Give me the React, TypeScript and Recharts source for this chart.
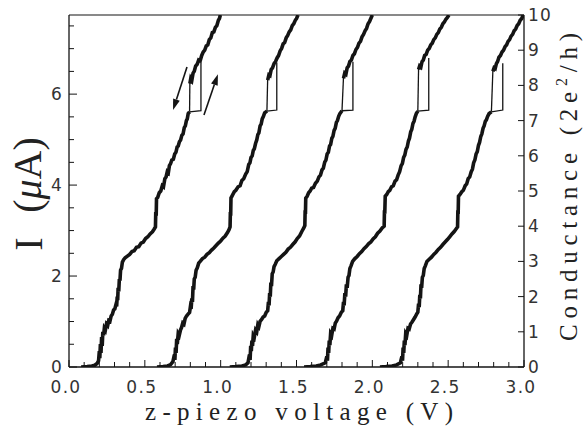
import React from 'react';
import { ComposedChart, Line, XAxis, YAxis, ReferenceLine } from 'recharts';

type P = [number, number];

// x = z-piezo voltage (V), g = conductance (2e^2/h)
const c1Lower: P[] = [[0.08,0.0],[0.12,0.01],[0.15,0.03],[0.17,0.05],[0.185,0.1],[0.195,0.18],[0.20,0.45],[0.203,0.25],[0.207,0.65],[0.211,0.4],[0.215,0.85],[0.219,0.6],[0.223,1.0],[0.228,0.9],[0.233,1.1],[0.24,1.05],[0.247,1.22],[0.255,1.18],[0.262,1.32],[0.27,1.3],[0.278,1.45],[0.286,1.5],[0.294,1.62],[0.302,1.65],[0.31,1.78],[0.314,1.72],[0.318,2.0],[0.321,1.9],[0.324,2.25],[0.328,2.15],[0.332,2.5],[0.336,2.45],[0.34,2.75],[0.346,2.8],[0.352,2.98],[0.36,3.05],[0.37,3.1],[0.385,3.15],[0.40,3.2],[0.415,3.28],[0.43,3.3],[0.445,3.4],[0.46,3.42],[0.475,3.52],[0.49,3.55],[0.505,3.65],[0.52,3.7],[0.535,3.78],[0.55,3.84],[0.562,3.92],[0.57,3.98],[0.572,4.4],[0.575,4.3],[0.577,4.78],[0.585,4.82],[0.595,4.95],[0.605,5.0],[0.615,5.15],[0.623,5.12],[0.632,5.35],[0.64,5.4],[0.648,5.55],[0.655,5.52],[0.662,5.72],[0.67,5.78],[0.678,5.88],[0.688,5.9],[0.697,6.05],[0.705,6.1],[0.713,6.25],[0.72,6.28],[0.728,6.4],[0.736,6.45],[0.744,6.58],[0.752,6.62],[0.76,6.8],[0.767,6.85],[0.774,7.0],[0.78,7.05],[0.786,7.2],[0.795,7.25]];
const c1Fwd: P[] = [[0.795,7.25],[0.87,7.28],[0.87,8.65]];
const c1Back: P[] = [[0.795,7.25],[0.797,8.1]];
const c1Upper: P[] = [[0.797,8.05],[0.803,8.2],[0.81,8.15],[0.818,8.35],[0.826,8.4],[0.835,8.55],[0.845,8.6],[0.855,8.72],[0.865,8.7],[0.875,8.85],[0.885,8.95],[0.895,9.0],[0.905,9.12],[0.915,9.15],[0.925,9.3],[0.935,9.35],[0.945,9.5],[0.955,9.52],[0.965,9.65],[0.975,9.7],[0.985,9.85],[0.992,9.9],[0.998,10]];

const c2Lower: P[] = [[0.58,0.0],[0.62,0.01],[0.65,0.03],[0.67,0.07],[0.685,0.15],[0.695,0.35],[0.698,0.2],[0.702,0.55],[0.706,0.4],[0.71,0.8],[0.714,0.65],[0.72,0.95],[0.727,0.9],[0.735,1.05],[0.742,1.12],[0.75,1.25],[0.758,1.22],[0.766,1.38],[0.775,1.45],[0.785,1.5],[0.795,1.55],[0.80,1.7],[0.805,1.65],[0.81,1.95],[0.814,1.85],[0.818,2.3],[0.822,2.2],[0.826,2.5],[0.832,2.55],[0.838,2.75],[0.846,2.82],[0.855,2.95],[0.865,3.0],[0.88,3.08],[0.895,3.12],[0.91,3.2],[0.925,3.25],[0.94,3.32],[0.955,3.38],[0.97,3.45],[0.985,3.52],[1.0,3.58],[1.015,3.66],[1.03,3.72],[1.045,3.82],[1.055,3.9],[1.062,3.98],[1.064,4.4],[1.066,4.3],[1.068,4.8],[1.078,4.88],[1.09,4.98],[1.10,5.02],[1.115,5.12],[1.128,5.15],[1.14,5.3],[1.152,5.35],[1.165,5.48],[1.175,5.55],[1.185,5.75],[1.193,5.8],[1.2,5.95],[1.208,6.0],[1.215,6.15],[1.222,6.2],[1.23,6.35],[1.238,6.45],[1.245,6.6],[1.252,6.65],[1.26,6.85],[1.267,6.9],[1.274,7.05],[1.282,7.12],[1.29,7.22],[1.305,7.27]];
const c2Fwd: P[] = [[1.305,7.27],[1.37,7.3],[1.37,8.65]];
const c2Back: P[] = [[1.305,7.27],[1.31,8.2]];
const c2Upper: P[] = [[1.31,8.15],[1.318,8.3],[1.325,8.28],[1.333,8.45],[1.342,8.5],[1.352,8.62],[1.362,8.68],[1.372,8.78],[1.382,8.85],[1.392,8.98],[1.402,9.05],[1.412,9.18],[1.422,9.22],[1.432,9.35],[1.442,9.42],[1.452,9.52],[1.462,9.58],[1.472,9.7],[1.482,9.75],[1.492,9.85],[1.50,9.9],[1.51,10]];

const c3Lower: P[] = [[1.06,0.0],[1.10,0.01],[1.14,0.03],[1.165,0.06],[1.18,0.12],[1.19,0.35],[1.194,0.2],[1.198,0.6],[1.202,0.45],[1.206,0.75],[1.21,0.6],[1.215,0.9],[1.222,0.85],[1.23,1.05],[1.238,1.0],[1.245,1.2],[1.252,1.15],[1.26,1.3],[1.27,1.35],[1.28,1.42],[1.29,1.45],[1.30,1.55],[1.31,1.6],[1.315,1.85],[1.319,1.75],[1.323,2.1],[1.327,2.0],[1.331,2.4],[1.335,2.3],[1.34,2.65],[1.346,2.7],[1.352,2.85],[1.36,2.92],[1.37,3.02],[1.385,3.08],[1.40,3.14],[1.415,3.2],[1.43,3.26],[1.445,3.35],[1.46,3.4],[1.475,3.48],[1.49,3.55],[1.505,3.65],[1.52,3.72],[1.535,3.85],[1.548,3.95],[1.555,4.02],[1.557,4.45],[1.559,4.35],[1.561,4.8],[1.57,4.85],[1.58,4.95],[1.59,5.0],[1.60,5.08],[1.612,5.1],[1.625,5.22],[1.637,5.28],[1.648,5.4],[1.658,5.45],[1.668,5.6],[1.677,5.65],[1.686,5.82],[1.694,5.88],[1.702,6.05],[1.71,6.1],[1.718,6.28],[1.725,6.32],[1.733,6.5],[1.74,6.55],[1.748,6.72],[1.755,6.78],[1.763,6.95],[1.77,7.0],[1.778,7.12],[1.786,7.2],[1.80,7.28]];
const c3Fwd: P[] = [[1.80,7.28],[1.872,7.3],[1.872,8.67]];
const c3Back: P[] = [[1.80,7.28],[1.81,8.25]];
const c3Upper: P[] = [[1.81,8.2],[1.818,8.35],[1.826,8.32],[1.834,8.5],[1.843,8.55],[1.852,8.68],[1.862,8.72],[1.872,8.85],[1.882,8.9],[1.892,9.02],[1.902,9.08],[1.912,9.2],[1.922,9.25],[1.932,9.38],[1.942,9.45],[1.952,9.55],[1.962,9.62],[1.972,9.75],[1.982,9.82],[1.99,9.9],[2.0,10]];

const c4Lower: P[] = [[1.55,0.0],[1.59,0.01],[1.63,0.03],[1.66,0.06],[1.69,0.12],[1.70,0.3],[1.704,0.18],[1.708,0.55],[1.712,0.4],[1.716,0.75],[1.72,0.62],[1.725,0.95],[1.732,0.9],[1.74,1.1],[1.748,1.08],[1.756,1.25],[1.764,1.3],[1.774,1.4],[1.784,1.45],[1.795,1.55],[1.805,1.6],[1.81,1.85],[1.814,1.75],[1.819,2.1],[1.824,2.0],[1.829,2.35],[1.834,2.25],[1.84,2.55],[1.846,2.6],[1.852,2.8],[1.86,2.88],[1.87,3.0],[1.885,3.08],[1.90,3.14],[1.915,3.22],[1.93,3.28],[1.945,3.36],[1.96,3.42],[1.975,3.5],[1.99,3.55],[2.005,3.64],[2.02,3.7],[2.035,3.8],[2.05,3.86],[2.065,3.95],[2.078,4.0],[2.08,4.45],[2.082,4.35],[2.085,4.85],[2.095,4.9],[2.105,4.98],[2.115,5.02],[2.127,5.12],[2.138,5.15],[2.15,5.28],[2.16,5.32],[2.17,5.45],[2.18,5.55],[2.19,5.72],[2.198,5.78],[2.206,5.95],[2.214,6.02],[2.222,6.18],[2.23,6.25],[2.238,6.42],[2.245,6.5],[2.253,6.68],[2.26,6.75],[2.268,6.92],[2.275,6.98],[2.282,7.1],[2.29,7.2],[2.30,7.27]];
const c4Fwd: P[] = [[2.30,7.27],[2.372,7.3],[2.372,8.78]];
const c4Back: P[] = [[2.30,7.27],[2.305,8.5]];
const c4Upper: P[] = [[2.305,8.45],[2.312,8.55],[2.32,8.52],[2.328,8.68],[2.336,8.72],[2.345,8.85],[2.355,8.88],[2.365,9.0],[2.375,9.05],[2.385,9.15],[2.395,9.2],[2.405,9.3],[2.415,9.35],[2.425,9.45],[2.435,9.5],[2.445,9.6],[2.455,9.65],[2.465,9.75],[2.475,9.8],[2.485,9.88],[2.495,9.93],[2.505,10]];

const c5Lower: P[] = [[2.05,0.0],[2.09,0.01],[2.13,0.03],[2.16,0.06],[2.185,0.12],[2.195,0.3],[2.199,0.18],[2.203,0.55],[2.207,0.4],[2.211,0.75],[2.215,0.62],[2.22,0.95],[2.227,0.9],[2.235,1.1],[2.243,1.08],[2.252,1.22],[2.262,1.28],[2.272,1.35],[2.282,1.42],[2.292,1.5],[2.30,1.56],[2.305,1.8],[2.309,1.7],[2.313,2.05],[2.317,1.95],[2.321,2.35],[2.325,2.25],[2.33,2.55],[2.336,2.6],[2.342,2.8],[2.35,2.88],[2.36,3.0],[2.375,3.06],[2.39,3.12],[2.405,3.2],[2.42,3.26],[2.435,3.34],[2.45,3.4],[2.465,3.48],[2.48,3.55],[2.495,3.62],[2.51,3.7],[2.525,3.78],[2.54,3.85],[2.552,3.92],[2.562,3.98],[2.564,4.45],[2.566,4.35],[2.568,4.85],[2.578,4.9],[2.59,4.98],[2.60,5.02],[2.612,5.15],[2.622,5.2],[2.632,5.35],[2.642,5.4],[2.652,5.55],[2.66,5.62],[2.668,5.8],[2.676,5.88],[2.684,6.05],[2.692,6.12],[2.70,6.3],[2.707,6.38],[2.715,6.55],[2.722,6.62],[2.73,6.78],[2.737,6.85],[2.745,6.98],[2.752,7.02],[2.76,7.12],[2.77,7.2],[2.785,7.25]];
const c5Fwd: P[] = [[2.785,7.25],[2.86,7.3],[2.86,8.63]];
const c5Back: P[] = [[2.785,7.25],[2.795,8.45]];
const c5Upper: P[] = [[2.795,8.4],[2.803,8.5],[2.81,8.48],[2.818,8.62],[2.826,8.68],[2.835,8.8],[2.845,8.85],[2.855,8.95],[2.865,9.0],[2.875,9.1],[2.885,9.15],[2.895,9.25],[2.905,9.3],[2.915,9.4],[2.925,9.45],[2.935,9.55],[2.945,9.6],[2.955,9.7],[2.965,9.75],[2.975,9.85],[2.985,9.9],[2.995,10]];

const xTicks = [0,0.1,0.2,0.3,0.4,0.5,0.6,0.7,0.8,0.9,1.0,1.1,1.2,1.3,1.4,1.5,1.6,1.7,1.8,1.9,2.0,2.1,2.2,2.3,2.4,2.5,2.6,2.7,2.8,2.9,3.0];
const currentTicks = [0,0.5,1,1.5,2,2.5,3,3.5,4,4.5,5,5.5,6,6.5,7,7.5];
const currentMax = 7.74;
const condTicks = [0,1,2,3,4,5,6,7,8,9,10];

// arrows: [from, to] in (V, conductance)
const arrowDown: P[] = [[0.778, 8.52], [0.686, 7.3]];
const arrowUp: P[] = [[0.89, 7.16], [0.982, 8.32]];

const toRows = (pts: P[]) => pts.map(([v, g]) => ({ v, g }));

const thick: P[][] = [c1Lower, c1Upper, c2Lower, c2Upper, c3Lower, c3Upper, c4Lower, c4Upper, c5Lower, c5Upper];
const thin: P[][] = [c1Fwd, c1Back, c2Fwd, c2Back, c3Fwd, c3Back, c4Fwd, c4Back, c5Fwd, c5Back];

const tickFont = { fontFamily: '"DejaVu Sans", sans-serif', fontSize: 17, fill: '#333', letterSpacing: 1.3 };
const titleSerif = { fontFamily: '"Liberation Serif", "DejaVu Serif", serif', fill: '#222' };
const INK = '#141414';

const XTick = (props: any) => {
  const { x, y, payload } = props;
  const v = payload.value;
  const major = Math.abs(v * 2 - Math.round(v * 2)) < 1e-6;
  return (
    <g>
      <line x1={x} x2={x} y1={y} y2={y - (major ? 7 : 5)} stroke={INK} strokeWidth={1} />
      {major && (
        <text x={x - 3} y={y + 26} textAnchor="middle" style={tickFont as any}>{v.toFixed(1)}</text>
      )}
    </g>
  );
};

const LeftTick = (props: any) => {
  const { x, y, payload } = props;
  const v = payload.value;
  const major = Math.abs(v / 2 - Math.round(v / 2)) < 1e-6;
  return (
    <g>
      <line x1={x} x2={x + (major ? 8 : 5)} y1={y} y2={y} stroke={INK} strokeWidth={1} />
      {major && (
        <text x={x - 6} y={y + 5.5} textAnchor="end" style={tickFont as any}>{String(v)}</text>
      )}
    </g>
  );
};

const RightTick = (props: any) => {
  const { x, y, payload } = props;
  return (
    <g>
      <line x1={x} x2={x - 6} y1={y} y2={y} stroke={INK} strokeWidth={1} />
      <text x={x + 4} y={y + 6} textAnchor="start" style={tickFont as any}>{String(payload.value)}</text>
    </g>
  );
};

const Arrow = (props: any) => {
  const { x1, y1, x2, y2 } = props;
  const ang = Math.atan2(y2 - y1, x2 - x1);
  const L = 11, W = 3.5;
  const bx = x2 - L * Math.cos(ang), by = y2 - L * Math.sin(ang);
  const nx = -Math.sin(ang) * W, ny = Math.cos(ang) * W;
  return (
    <g>
      <line x1={x1} y1={y1} x2={bx} y2={by} stroke={INK} strokeWidth={1.6} />
      <polygon points={`${x2},${y2} ${bx + nx},${by + ny} ${bx - nx},${by - ny}`} fill={INK} />
    </g>
  );
};

export default function App() {
  return (
    <div style={{ position: 'absolute', left: 0, top: 0, width: 586, height: 429, background: '#fff' }}>
      <ComposedChart width={586} height={429} margin={{ top: 15, right: 0, bottom: 0, left: 0 }}>
        <XAxis
          type="number"
          dataKey="v"
          domain={[0, 3]}
          ticks={xTicks}
          interval={0}
          height={62}
          tickSize={0}
          tickMargin={0}
          tickLine={false}
          axisLine={{ stroke: INK, strokeWidth: 1.3 }}
          tick={<XTick />}
          allowDataOverflow
        />
        <YAxis
          yAxisId="left"
          orientation="left"
          type="number"
          domain={[0, currentMax]}
          ticks={currentTicks}
          interval={0}
          width={69}
          tickSize={0}
          tickMargin={0}
          tickLine={false}
          axisLine={{ stroke: INK, strokeWidth: 1.3 }}
          tick={<LeftTick />}
          allowDataOverflow
        />
        <YAxis
          yAxisId="right"
          orientation="right"
          type="number"
          domain={[0, 10]}
          ticks={condTicks}
          interval={0}
          width={62}
          tickSize={0}
          tickMargin={0}
          tickLine={false}
          axisLine={{ stroke: INK, strokeWidth: 1.3 }}
          tick={<RightTick />}
          allowDataOverflow
        />
        <ReferenceLine yAxisId="right" y={10} stroke={INK} strokeWidth={1.2} />
        {thin.map((pts, i) => (
          <Line
            key={'t' + i}
            yAxisId="right"
            data={toRows(pts)}
            dataKey="g"
            type="linear"
            dot={false}
            stroke={INK}
            strokeWidth={1.3}
            isAnimationActive={false}
          />
        ))}
        {thick.map((pts, i) => (
          <Line
            key={'k' + i}
            yAxisId="right"
            data={toRows(pts)}
            dataKey="g"
            type="linear"
            dot={false}
            stroke={INK}
            strokeWidth={3.6}
            strokeLinejoin="miter"
            isAnimationActive={false}
          />
        ))}
        <ReferenceLine
          yAxisId="right"
          segment={[{ x: arrowDown[0][0], y: arrowDown[0][1] }, { x: arrowDown[1][0], y: arrowDown[1][1] }]}
          shape={<Arrow />}
        />
        <ReferenceLine
          yAxisId="right"
          segment={[{ x: arrowUp[0][0], y: arrowUp[0][1] }, { x: arrowUp[1][0], y: arrowUp[1][1] }]}
          shape={<Arrow />}
        />
      </ComposedChart>
      <svg width={586} height={429} style={{ position: 'absolute', left: 0, top: 0, pointerEvents: 'none' }}>
        <text
          x={42}
          y={244}
          transform="rotate(-90, 42, 244)"
          textAnchor="middle"
          style={{ ...titleSerif, fontSize: 40 }}
        >
          I
        </text>
        <text
          x={41}
          y={175}
          transform="rotate(-90, 41, 175)"
          textAnchor="middle"
          style={{ ...titleSerif, fontSize: 40 }}
        >
          (<tspan fontStyle="italic">μ</tspan>A)
        </text>
        <text
          x={299}
          y={420}
          textAnchor="middle"
          textLength={308}
          lengthAdjust="spacing"
          style={{ ...titleSerif, fontSize: 25 }}
        >
          z-piezo voltage (V)
        </text>
        <text
          x={577}
          y={187}
          transform="rotate(-90, 577, 187)"
          textAnchor="middle"
          textLength={308}
          lengthAdjust="spacing"
          style={{ ...titleSerif, fontSize: 25 }}
        >
          Conductance (2e<tspan fontSize={16} dy={-10}>2</tspan><tspan dy={10}>/h)</tspan>
        </text>
      </svg>
    </div>
  );
}
